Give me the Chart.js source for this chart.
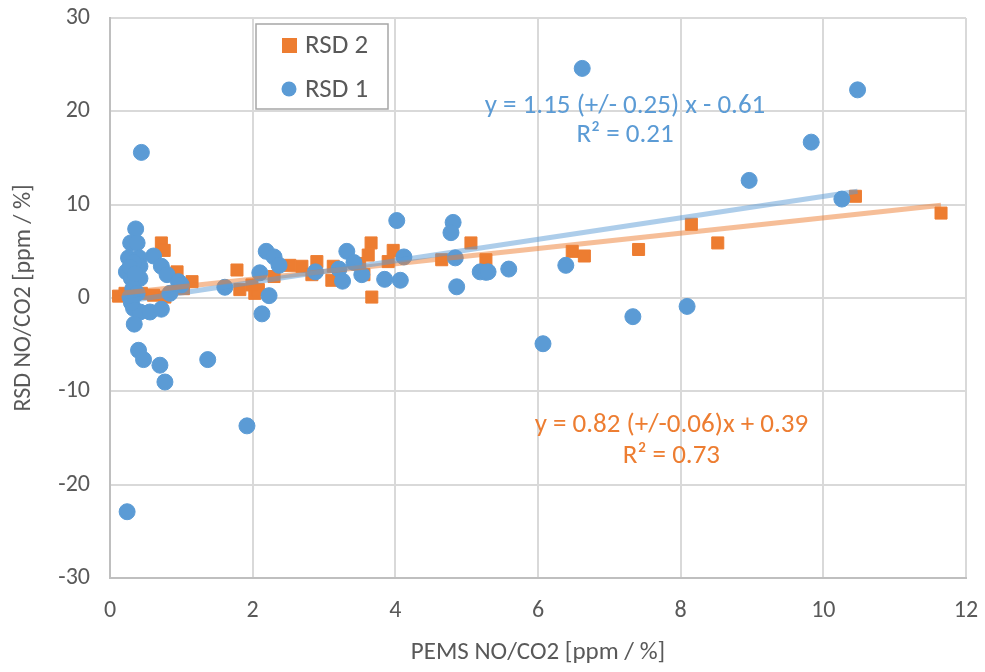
<!DOCTYPE html>
<html>
<head>
<meta charset="utf-8">
<script src="https://cdn.jsdelivr.net/npm/chart.js@4.4.1/dist/chart.umd.min.js"></script>
<style>
  html, body { margin: 0; padding: 0; background: #fff; }
  #wrap { width: 985px; height: 672px; }
</style>
</head>
<body>
<div id="wrap"><canvas id="chart" width="985" height="672"></canvas></div>
<script>
// RSD 1 (blue circles)
const rsd1X = [0.24, 0.44, 0.36, 0.29, 0.38, 0.26, 0.41, 0.23, 0.42, 0.30, 0.42, 0.33, 0.28, 0.35,
  0.61, 0.72, 0.80, 0.96, 0.84, 1.61, 0.28, 0.33, 0.42, 0.56, 0.72, 0.34, 0.40, 0.47, 0.70, 0.77,
  1.37, 1.00, 0.32, 0.38, 0.30,
  1.92, 2.10, 2.19, 2.30, 2.37, 2.23, 2.13, 2.88, 3.32, 3.21, 3.26, 3.42, 3.53, 3.85, 4.02, 4.07,
  4.12, 4.81, 4.78, 4.84, 4.86, 5.19, 5.27, 5.30, 5.59, 6.39, 6.07, 7.33, 8.09, 6.62, 10.48, 9.83,
  8.96, 10.26];
const rsd1Y = [-22.9, 15.6, 7.4, 5.9, 5.9, 4.3, 4.3, 2.8, 3.4, 2.1, 2.1, 3.8, 3.3, 2.6,
  4.5, 3.4, 2.5, 1.75, 0.5, 1.15, 0.1, -1.1, -1.5, -1.5, -1.2, -2.8, -5.6, -6.6, -7.2, -9.0,
  -6.6, 1.4, 1.0, 0.5, -0.5,
  -13.7, 2.7, 5.0, 4.4, 3.5, 0.25, -1.7, 2.8, 5.0, 3.1, 1.8, 3.8, 2.5, 2.0, 8.3, 1.9,
  4.4, 8.1, 7.0, 4.3, 1.2, 2.8, 2.75, 2.8, 3.1, 3.5, -4.9, -2.0, -0.9, 24.6, 22.3, 16.7,
  12.6, 10.6];

// RSD 2 (orange squares)
const rsd2X = [0.12, 0.21, 0.30, 0.44, 0.61, 0.77, 0.72, 0.76, 0.94, 1.15, 1.03,
  1.78, 1.82, 2.03, 2.08, 1.99, 2.30, 2.52, 2.69, 2.90, 2.83, 3.11, 3.13, 3.50, 3.56, 3.66, 3.62,
  3.67, 3.97, 3.90, 4.65, 5.06, 5.27, 6.48, 6.65, 7.41, 8.15, 8.52, 10.45, 11.65];
const rsd2Y = [0.2, 0.5, 0.3, 0.5, 0.3, 0.1, 5.9, 5.1, 2.8, 1.75, 1.0,
  3.0, 0.9, 0.5, 0.9, 1.4, 2.3, 3.5, 3.4, 3.9, 2.5, 1.9, 3.4, 3.7, 2.5, 5.9, 4.6,
  0.1, 5.1, 3.9, 4.1, 5.9, 4.1, 5.0, 4.5, 5.2, 7.9, 5.9, 10.9, 9.1];

// linear fits as printed on the chart
const fitSlope = { rsd1: 1.15, rsd2: 0.82 };
const fitIntercept = { rsd1: -0.61, rsd2: 0.39 };
const fitLabels = {
  rsd1: ['y = 1.15 (+/- 0.25) x - 0.61', 'R\u00b2 = 0.21'],
  rsd2: ['y = 0.82 (+/-0.06)x + 0.39', 'R\u00b2 = 0.73']
};

const xTicks = [0, 2, 4, 6, 8, 10, 12];
const yTicks = [-30, -20, -10, 0, 10, 20, 30];

const BLUE = '#5b9bd5';
const ORANGE = '#ed7d31';
const TEXT = '#595959';
const FONT = "Carlito, 'Liberation Sans Narrow', 'Open Sans', sans-serif";

const toPoints = (xs, ys) => xs.map((x, i) => ({ x, y: ys[i] }));
function fitLine(xs, key) {
  const lo = Math.min(...xs), hi = Math.max(...xs);
  return [lo, hi].map(x => ({ x, y: fitSlope[key] * x + fitIntercept[key] }));
}

// annotations + legend box drawn on the canvas
const extras = {
  id: 'extras',
  afterDatasetsDraw(chart) {
    const c = chart.ctx;
    const xs = chart.scales.x, ys = chart.scales.y;
    c.save();
    c.font = `27px ${FONT}`;
    c.textAlign = 'center';
    c.textBaseline = 'middle';
    c.fillStyle = BLUE;
    c.fillText(fitLabels.rsd1[0], xs.getPixelForValue(7.22), ys.getPixelForValue(20.5));
    c.fillText(fitLabels.rsd1[1], xs.getPixelForValue(7.22), ys.getPixelForValue(17.4));
    c.fillStyle = ORANGE;
    c.fillText(fitLabels.rsd2[0], xs.getPixelForValue(7.87), ys.getPixelForValue(-13.6));
    c.fillText(fitLabels.rsd2[1], xs.getPixelForValue(7.87), ys.getPixelForValue(-17.0));

    // legend
    c.fillStyle = '#fff';
    c.fillRect(256, 24, 132, 85);
    c.strokeStyle = '#a6a6a6';
    c.lineWidth = 1.5;
    c.strokeRect(256, 24, 132, 85);
    c.textAlign = 'left';
    c.font = `27px ${FONT}`;
    c.fillStyle = ORANGE;
    c.fillRect(282, 38, 15, 15);
    c.fillStyle = BLUE;
    c.beginPath();
    c.arc(289, 89, 7.5, 0, Math.PI * 2);
    c.fill();
    c.fillStyle = TEXT;
    c.fillText('RSD 2', 305, 46);
    c.fillText('RSD 1', 305, 90);
    c.restore();
  }
};

new Chart(document.getElementById('chart'), {
  type: 'scatter',
  data: {
    datasets: [
      {
        label: 'RSD 1 fit', type: 'line', data: fitLine(rsd1X, 'rsd1'),
        borderColor: 'rgba(91,155,213,0.5)', borderWidth: 5, pointRadius: 0, order: 0
      },
      {
        label: 'RSD 2 fit', type: 'line', data: fitLine(rsd2X, 'rsd2'),
        borderColor: 'rgba(237,125,49,0.5)', borderWidth: 5, pointRadius: 0, order: 0
      },
      {
        label: 'RSD 1', data: toPoints(rsd1X, rsd1Y),
        backgroundColor: BLUE, borderColor: BLUE, pointStyle: 'circle', pointRadius: 8, order: 1
      },
      {
        label: 'RSD 2', data: toPoints(rsd2X, rsd2Y),
        backgroundColor: ORANGE, borderColor: ORANGE, pointStyle: 'rect', pointRadius: 8.5, order: 2
      }
    ]
  },
  options: {
    responsive: false,
    animation: false,
    layout: { padding: { left: 0, right: 19, top: 18, bottom: 0 } },
    plugins: { legend: { display: false }, tooltip: { enabled: false } },
    scales: {
      x: {
        type: 'linear', min: 0, max: 12,
        afterBuildTicks: s => { s.ticks = xTicks.map(v => ({ value: v })); },
        afterFit: s => { s.height = 94; s.paddingLeft = 0; s.paddingRight = 0; },
        grid: { color: '#d9d9d9', lineWidth: 2, drawTicks: false },
        border: { color: '#bfbfbf', width: 2 },
        ticks: { color: TEXT, font: { family: FONT, size: 24 }, padding: 19 },
        title: { display: true, text: 'PEMS NO/CO2 [ppm / %]', color: TEXT, font: { family: FONT, size: 25 }, padding: { top: 14 } }
      },
      y: {
        type: 'linear', min: -30, max: 30,
        afterBuildTicks: s => { s.ticks = yTicks.map(v => ({ value: v })); },
        afterFit: s => { s.width = 110; s.paddingTop = 0; s.paddingBottom = 0; },
        grid: { color: '#d9d9d9', lineWidth: 2, drawTicks: false },
        border: { color: '#bfbfbf', width: 2 },
        ticks: { color: TEXT, font: { family: FONT, size: 24 }, padding: 20 },
        title: { display: true, text: 'RSD NO/CO2 [ppm / %]', color: TEXT, font: { family: FONT, size: 24 }, padding: { top: 10, bottom: 0 } }
      }
    }
  },
  plugins: [extras]
});
</script>
</body>
</html>
